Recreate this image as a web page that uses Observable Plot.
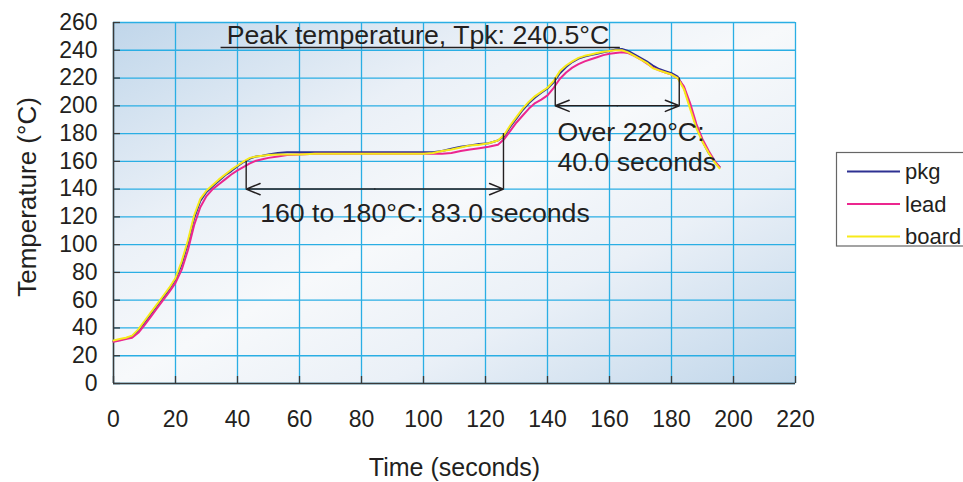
<!DOCTYPE html>
<html>
<head>
<meta charset="utf-8">
<script src="https://cdn.jsdelivr.net/npm/d3@7"></script>
<script src="https://cdn.jsdelivr.net/npm/@observablehq/plot@0.6"></script>
<style>
  html, body { margin: 0; padding: 0; background: #ffffff; }
  #chart { width: 963px; height: 482px; }
</style>
</head>
<body>
<div id="chart"></div>
<script>
// ---------- data ----------
const time = [0,2,4,6,8,10,12,14,16,18,20,22,24,26,28,30,32,34,36,38,40,42,44,46,48,50,53,56,60,65,70,80,90,100,103,106,109,112,115,118,121,124,126,128,130,132,134,136,138,140,142,144,146,148,150,152,154,156,158,160,162,164,166,168,170,172,174,176,178,180,182,184,186,188,190,192,194,195.5];

const pkg = [30.5,31.5,32.5,34,38,44,50,56,62,68,75,86,101,119,131.5,138,142,146,150,153,156.5,159.5,162,163.5,164,165,166,166.5,166.5,166.5,166.5,166.5,166.5,166.5,166.5,167.5,169,170.5,171.5,172.5,173,175,178,185,191,197,202,206,209.5,212.5,217,223.5,228,231.5,234,235.5,236.5,237.5,238.5,239.5,240.5,241,239.5,237,234.5,232,229,226.5,225,223.5,221,213,200,185,174.5,166,159.5,156];

const lead = [30,31,32,33,36.5,42,48,54,60,66,72.5,82,96,114,127,135,140,143.5,147,150.5,153.5,156,158.5,160.5,161.5,162.5,163.5,164.5,165,165.5,165.5,165.5,165.5,165.5,165.5,165.5,166,167.5,168.5,169.5,170.5,172,176,182,188,193,198,202,204.5,207.5,213,219.5,224,227.5,230,232,233.5,235,236.5,237.5,238,238.5,238,236,233.5,230.5,227.5,225.5,224,222.5,220,214,202,187,176,167.5,160,156];

const board = [31,32,33,34.5,39,45,51,57,63,69,76,88,103,121,133,139,143,147,150.5,154,157,160,162.5,163.5,164,164.5,165,165,165,165.5,165.5,165.5,165.5,165.5,166,167.5,168.5,170,171.5,172,173,175,179,186,192,198,203,207,210,213,218,225,229,232,234.5,236,237,238,239,239.5,240,240,238.5,236,233.5,231,227,225.5,224,222.5,220,212,198,184,174,166,159,155];

const seriesNames = ["pkg", "lead", "board"];
const seriesColors = ["#2e3192", "#ec268f", "#f7ea1a"];

const xTicks = [0,20,40,60,80,100,120,140,160,180,200,220];
const yTicks = [0,20,40,60,80,100,120,140,160,180,200,220,240,260];

// annotations (values in data units)
const peakLabel = "Peak temperature, Tpk: 240.5°C";
const peakLine = [{x1: 34.7, x2: 163.5, y: 242}];
const peakText = [{x: 36.5, y: 251, text: peakLabel}];

const soakLabel = "160 to 180°C: 83.0 seconds";
const soakStart = 42.8, soakEnd = 125.8, soakArrowY = 140;
const soakVerticals = [{x: soakStart, y1: 140, y2: 160}, {x: soakEnd, y1: 140, y2: 180}];
const soakText = [{x: 47.3, y: 122.5, text: soakLabel}];

const tal = "Over 220°C:\n40.0 seconds";
const talStart = 142.5, talEnd = 182.5, talArrowY = 200;
const talVerticals = [{x: talStart, y1: 200, y2: 220}, {x: talEnd, y1: 200, y2: 220}];
const talText = [{x: 143.2, y: 171, text: tal}];

const xLabel = "Time (seconds)";
const yLabel = "Temperature (°C)";

// ---------- build ----------
const FONT = '"Liberation Sans", Arial, Helvetica, sans-serif';
const INK = "#231f20";
const GRID = "#2aaee4";
const ANN = 26.7;

const allSeries = [pkg, lead, board];
const tables = allSeries.map(vals => time.map((t, i) => ({t, v: vals[i]})));

function arrowPairs(a, b, y) {
  const m = (a + b) / 2;
  return [{x1: m, x2: a, y}, {x1: m, x2: b, y}];
}

const plot = Plot.plot({
  width: 963,
  height: 482,
  marginLeft: 113,
  marginRight: 168,
  marginTop: 22,
  marginBottom: 99,
  style: {fontFamily: FONT, fontSize: "23px", color: INK, background: "transparent"},
  x: {domain: [0, 220]},
  y: {domain: [0, 260]},
  marks: [
    Plot.frame({fill: "url(#bgGrad)", stroke: null}),
    Plot.gridX(xTicks, {stroke: GRID, strokeOpacity: 1, strokeWidth: 1.3}),
    Plot.gridY(yTicks, {stroke: GRID, strokeOpacity: 1, strokeWidth: 1.3}),
    Plot.ruleX([0], {stroke: "#3a3a3a", strokeWidth: 1.5}),
    Plot.ruleY([0], {stroke: "#3a3a3a", strokeWidth: 1.5}),
    Plot.tickX(xTicks, {x: d => d, insetTop: 354, stroke: "#3a3a3a", strokeWidth: 1.3}),
    Plot.tickY(yTicks, {y: d => d, insetRight: 675, stroke: "#3a3a3a", strokeWidth: 1.3}),
    Plot.axisX(xTicks, {tickSize: 0, tickPadding: 27, label: null, fontSize: 23, fill: INK}),
    Plot.axisY(yTicks, {tickSize: 0, tickPadding: 16, label: null, fontSize: 23, fill: INK}),
    // series
    ...tables.map((tb, i) => Plot.line(tb, {x: "t", y: "v", stroke: seriesColors[i], strokeWidth: 2})),
    // peak annotation
    Plot.ruleY(peakLine, {y: "y", x1: "x1", x2: "x2", stroke: INK, strokeWidth: 1.4}),
    Plot.text(peakText, {x: "x", y: "y", text: "text", textAnchor: "start", lineAnchor: "middle", fontSize: ANN, fill: INK}),
    // soak annotation
    Plot.ruleX(soakVerticals, {x: "x", y1: "y1", y2: "y2", stroke: INK, strokeWidth: 1.4}),
    Plot.arrow(arrowPairs(soakStart, soakEnd, soakArrowY), {x1: "x1", x2: "x2", y1: "y", y2: "y", stroke: INK, strokeWidth: 1.5, headLength: 15, headAngle: 44}),
    Plot.text(soakText, {x: "x", y: "y", text: "text", textAnchor: "start", lineAnchor: "middle", fontSize: ANN, fill: INK}),
    // time above liquidus annotation
    Plot.ruleX(talVerticals, {x: "x", y1: "y1", y2: "y2", stroke: INK, strokeWidth: 1.4}),
    Plot.arrow(arrowPairs(talStart, talEnd, talArrowY), {x1: "x1", x2: "x2", y1: "y", y2: "y", stroke: INK, strokeWidth: 1.5, headLength: 15, headAngle: 44}),
    Plot.text(talText, {x: "x", y: "y", text: "text", textAnchor: "start", lineAnchor: "middle", lineHeight: 1.13, fontSize: ANN, fill: INK}),
    // axis titles
    Plot.text([xLabel], {frameAnchor: "bottom", text: d => d, dy: 84, textAnchor: "middle", lineAnchor: "middle", fontSize: 25, fill: INK}),
    Plot.text([yLabel], {frameAnchor: "left", text: d => d, dx: -86, dy: -6, rotate: -90, textAnchor: "middle", lineAnchor: "middle", fontSize: 26, fill: INK})
  ]
});

const svg = d3.select(plot);
svg.style("overflow", "hidden");
const defs = svg.insert("defs", ":first-child");
const grad = defs.append("linearGradient").attr("id", "bgGrad")
  .attr("x1", 0).attr("y1", 0).attr("x2", 1).attr("y2", 1);
[[0, "#c0d6ea"], [0.3, "#eaf0f7"], [0.5, "#f7f9fb"], [0.7, "#eaf0f7"], [1, "#c0d6ea"]]
  .forEach(([o, c]) => grad.append("stop").attr("offset", o).attr("stop-color", c));

// legend
const lg = svg.append("g").attr("font-family", FONT).attr("font-size", 22).attr("fill", INK)
  .attr("text-anchor", "start");
lg.append("rect").attr("x", 836.5).attr("y", 152.5).attr("width", 140).attr("height", 93.5)
  .attr("fill", "#ffffff").attr("stroke", "#666").attr("stroke-width", 1.2);
const legendY = [171.5, 204, 236.5];
seriesNames.forEach((name, i) => {
  lg.append("line").attr("x1", 847).attr("x2", 900).attr("y1", legendY[i]).attr("y2", legendY[i])
    .attr("stroke", seriesColors[i]).attr("stroke-width", 2);
  lg.append("text").attr("x", 905).attr("y", legendY[i]).attr("dy", "0.35em")
    .attr("text-anchor", "start").text(name);
});

document.getElementById("chart").appendChild(plot);
</script>
</body>
</html>
